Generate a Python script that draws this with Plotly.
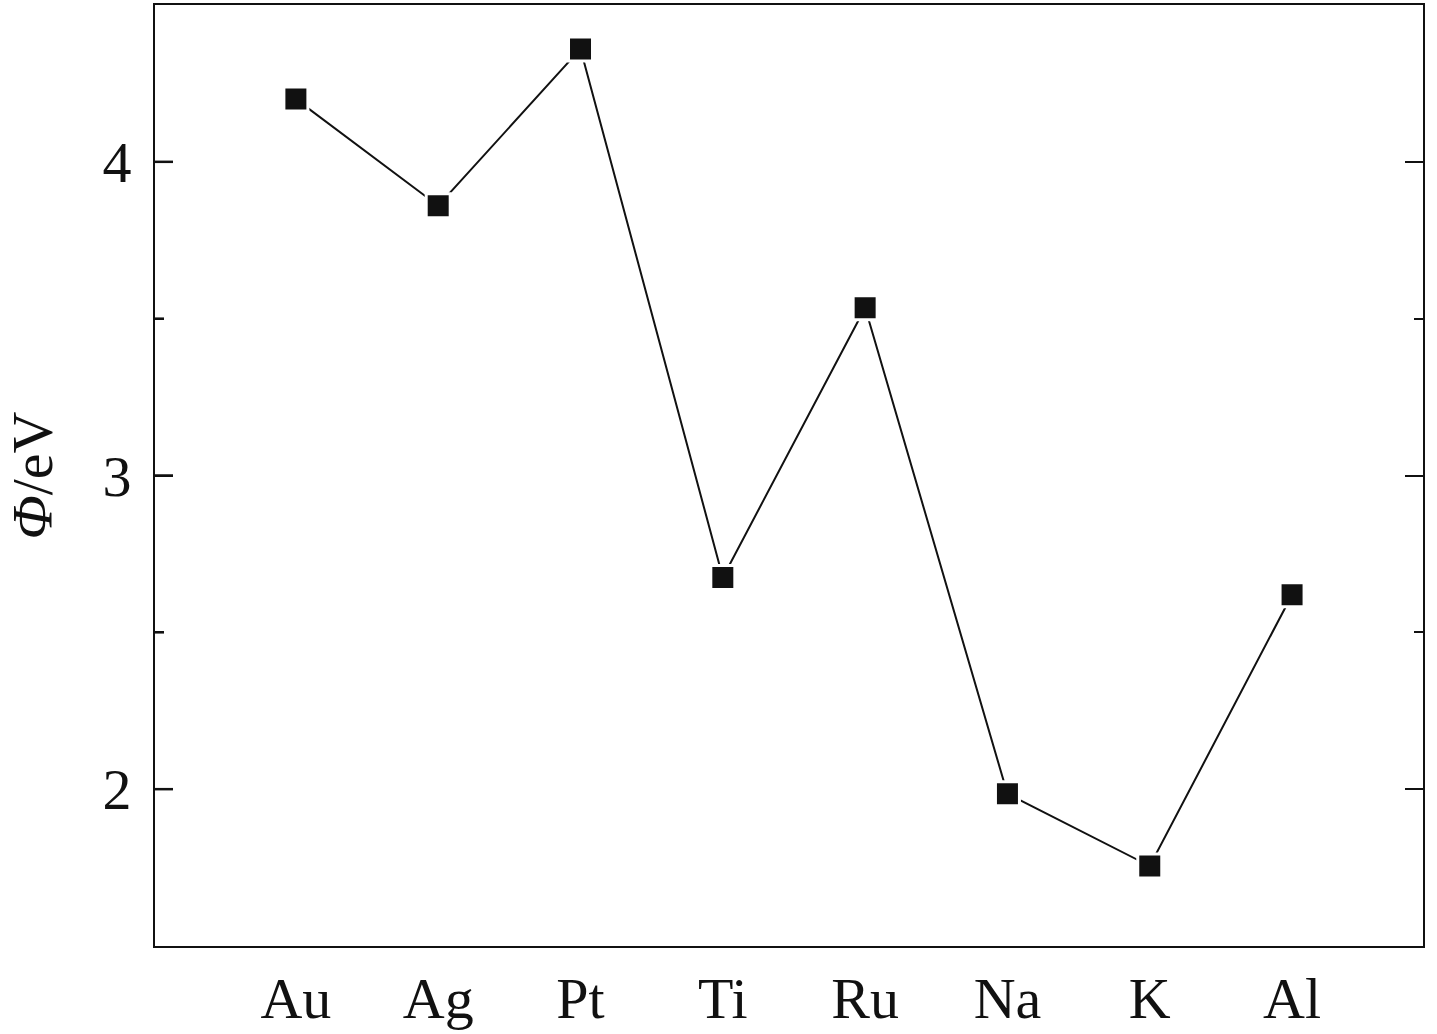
import plotly.graph_objects as go

metals = ["Au", "Ag", "Pt", "Ti", "Ru", "Na", "K", "Al"]
work_function = [4.20, 3.86, 4.36, 2.675, 3.535, 1.985, 1.755, 2.62]
x_pos = list(range(len(metals)))
major_ticks = [2, 3, 4]
minor_ticks = [2.5, 3.5]

fig = go.Figure()
fig.add_trace(go.Scatter(
    x=x_pos, y=work_function, mode="lines+markers",
    line=dict(color="#111111", width=2),
    marker=dict(symbol="square", size=24, color="#111111",
                line=dict(color="white", width=3)),
    showlegend=False,
))

font_family = "Liberation Serif, Times New Roman, serif"
plot_w = 1437 - 155 - 14
fig.update_layout(
    width=1437, height=1034,
    margin=dict(l=155, r=14, t=3, b=84),
    paper_bgcolor="white", plot_bgcolor="white",
    font=dict(family=font_family, size=58, color="#111111"),
)
fig.update_xaxes(
    range=[-0.99, 7.92], tickvals=x_pos, ticktext=metals,
    showline=True, linecolor="#111111", linewidth=2, mirror=True,
    ticks="", showgrid=False, zeroline=False,
    tickfont=dict(family=font_family, size=58, color="#111111"),
)
fig.update_yaxes(
    range=[1.5, 4.5], tickvals=major_ticks,
    showline=True, linecolor="#111111", linewidth=2, mirror="allticks",
    ticks="inside", ticklen=18, tickwidth=2, tickcolor="#111111",
    minor=dict(tickvals=minor_ticks, ticks="inside", ticklen=9, tickwidth=2, tickcolor="#111111"),
    showgrid=False, zeroline=False, ticklabelstandoff=10,
    tickfont=dict(family=font_family, size=58, color="#111111"),
    title=dict(text="<i>Φ</i>/eV", font=dict(family=font_family, size=58, color="#111111"), standoff=40),
)
# left-side inner tick marks, placed at the tick values
for vals, length in ((major_ticks, 18), (minor_ticks, 9)):
    for v in vals:
        fig.add_shape(type="line", xref="x domain", yref="y",
                      x0=0, x1=length / plot_w, y0=v, y1=v,
                      line=dict(color="#111111", width=2.5), layer="above")
fig.write_html("out.html", post_script="document.body.style.margin='0';",
               config={"displayModeBar": False})
